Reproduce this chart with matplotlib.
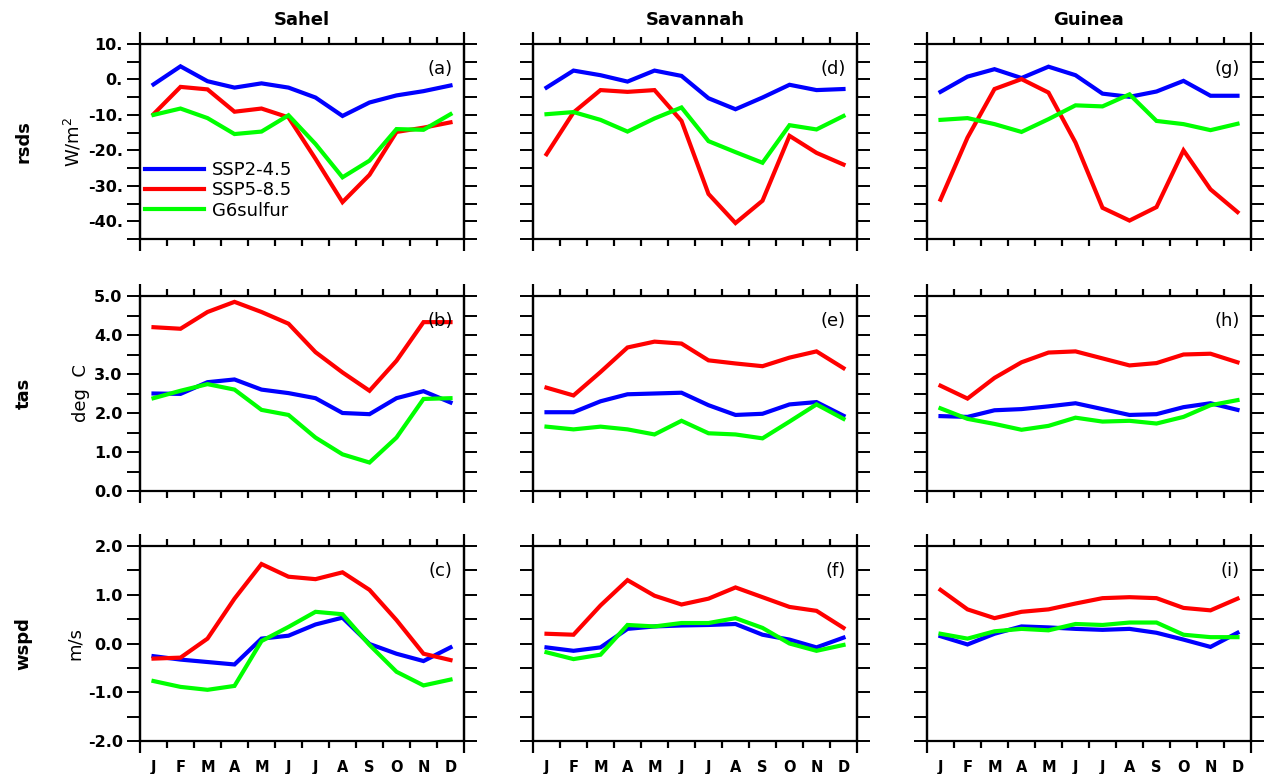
import matplotlib
matplotlib.use("Agg")
import matplotlib.pyplot as plt
import matplotlib.transforms as mtransforms
import numpy as np

plt.rcParams["font.family"] = ["DejaVu Sans"]

months = ["J", "F", "M", "A", "M", "J", "J", "A", "S", "O", "N", "D"]
regions = ["Sahel", "Savannah", "Guinea"]
variables = ["rsds", "tas", "wspd"]
units = ["W/m$^2$", "deg  C", "m/s"]
scenarios = ["SSP2-4.5", "SSP5-8.5", "G6sulfur"]
colors = ["#0000ff", "#ff0000", "#00ff00"]

# rsds (W/m2), one list per region: ssp245, ssp585, g6sulfur
rsds_sahel = [
    [-1.4, 3.7, -0.5, -2.3, -1.1, -2.3, -5.1, -10.3, -6.5, -4.5, -3.3, -1.7],
    [-9.8, -2.1, -2.8, -9.1, -8.2, -10.7, -22.4, -34.6, -26.9, -14.8, -13.6, -12.1],
    [-10.0, -8.2, -10.9, -15.4, -14.7, -10.1, -18.2, -27.6, -22.9, -14.0, -14.2, -9.8],
]
rsds_savannah = [
    [-2.3, 2.5, 1.2, -0.6, 2.5, 1.0, -5.3, -8.4, -5.1, -1.5, -3.0, -2.7],
    [-21.1, -9.3, -3.0, -3.5, -3.0, -11.7, -32.3, -40.5, -34.2, -15.9, -20.7, -24.0],
    [-9.8, -9.2, -11.4, -14.7, -11.0, -7.9, -17.4, -20.5, -23.5, -12.9, -14.1, -10.3],
]
rsds_guinea = [
    [-3.5, 0.8, 2.9, 0.4, 3.6, 1.2, -4.0, -4.9, -3.4, -0.4, -4.6, -4.6],
    [-33.9, -16.4, -2.7, 0.1, -3.7, -17.8, -36.2, -39.8, -36.0, -20.0, -31.0, -37.4],
    [-11.4, -10.9, -12.6, -14.8, -11.2, -7.3, -7.6, -4.2, -11.7, -12.6, -14.3, -12.5],
]

# tas (deg C)
tas_sahel = [
    [2.50, 2.49, 2.79, 2.86, 2.60, 2.51, 2.38, 2.00, 1.97, 2.38, 2.56, 2.27],
    [4.20, 4.16, 4.59, 4.85, 4.59, 4.29, 3.56, 3.04, 2.57, 3.34, 4.33, 4.33],
    [2.38, 2.57, 2.74, 2.60, 2.08, 1.95, 1.37, 0.94, 0.73, 1.37, 2.36, 2.38],
]
tas_savannah = [
    [2.02, 2.02, 2.30, 2.48, 2.50, 2.52, 2.20, 1.95, 1.98, 2.22, 2.28, 1.93],
    [2.65, 2.45, 3.05, 3.68, 3.83, 3.78, 3.35, 3.27, 3.20, 3.42, 3.58, 3.15],
    [1.65, 1.58, 1.65, 1.58, 1.45, 1.80, 1.48, 1.45, 1.35, 1.78, 2.22, 1.85],
]
tas_guinea = [
    [1.92, 1.90, 2.07, 2.10, 2.17, 2.25, 2.10, 1.95, 1.97, 2.15, 2.25, 2.08],
    [2.70, 2.37, 2.90, 3.30, 3.55, 3.58, 3.40, 3.22, 3.28, 3.50, 3.52, 3.30],
    [2.12, 1.85, 1.72, 1.57, 1.67, 1.88, 1.78, 1.80, 1.73, 1.90, 2.20, 2.33],
]

# wspd (m/s)
wspd_sahel = [
    [-0.26, -0.33, -0.38, -0.43, 0.10, 0.16, 0.39, 0.53, -0.01, -0.21, -0.36, -0.08],
    [-0.31, -0.29, 0.10, 0.92, 1.63, 1.37, 1.32, 1.46, 1.10, 0.48, -0.21, -0.34],
    [-0.77, -0.89, -0.95, -0.87, 0.05, 0.34, 0.65, 0.60, -0.03, -0.58, -0.86, -0.74],
]
wspd_savannah = [
    [-0.08, -0.15, -0.08, 0.30, 0.35, 0.37, 0.38, 0.40, 0.18, 0.08, -0.08, 0.12],
    [0.20, 0.18, 0.78, 1.30, 0.98, 0.80, 0.92, 1.15, 0.95, 0.75, 0.67, 0.32],
    [-0.18, -0.32, -0.23, 0.38, 0.35, 0.42, 0.42, 0.52, 0.32, 0.00, -0.15, -0.03],
]
wspd_guinea = [
    [0.15, -0.02, 0.20, 0.35, 0.33, 0.30, 0.28, 0.30, 0.22, 0.08, -0.07, 0.22],
    [1.10, 0.70, 0.52, 0.65, 0.70, 0.82, 0.93, 0.95, 0.93, 0.73, 0.68, 0.92],
    [0.20, 0.10, 0.25, 0.30, 0.27, 0.40, 0.38, 0.43, 0.43, 0.18, 0.13, 0.13],
]

data = [
    [rsds_sahel, rsds_savannah, rsds_guinea],
    [tas_sahel, tas_savannah, tas_guinea],
    [wspd_sahel, wspd_savannah, wspd_guinea],
]

ylims = [(-45, 10), (0, 5), (-2, 2)]
ymajor = [np.arange(-40, 11, 10), np.arange(0, 5.1, 1), np.arange(-2, 2.1, 1)]
yminor = [np.arange(-45, 11, 5), np.arange(0, 5.1, 0.5), np.arange(-2, 2.1, 0.5)]
ylabels = [["-40.", "-30.", "-20.", "-10.", "0.", "10."],
           ["0.0", "1.0", "2.0", "3.0", "4.0", "5.0"],
           ["-2.0", "-1.0", "0.0", "1.0", "2.0"]]
panel_tags = [["(a)", "(d)", "(g)"], ["(b)", "(e)", "(h)"], ["(c)", "(f)", "(i)"]]

W, H = 1265, 774
fig = plt.figure(figsize=(W / 100, H / 100), dpi=100)

col_left = [140, 533, 927]
row_top = [44, 296, 546]
aw, ah = 324, 195

x = np.arange(1, 13)
bounds = x[:-1] + 0.5

for r in range(3):
    for c in range(3):
        ax = fig.add_axes([col_left[c] / W, 1 - (row_top[r] + ah) / H, aw / W, ah / H])
        for k in range(3):
            ax.plot(x, data[r][c][k], color=colors[k], lw=3.0,
                    solid_joinstyle="miter", label=scenarios[k])
        ax.set_xlim(0.5, 12.5)
        ax.set_ylim(*ylims[r])
        ax.set_autoscale_on(False)

        for s in ax.spines.values():
            s.set_linewidth(1.6)

        # month names at the centres (no tick marks there)
        ax.set_xticks(x)
        ax.tick_params(axis="x", which="major", length=0, pad=14,
                       labelsize=10.5, top=False, bottom=False)
        if r == 2:
            ax.set_xticklabels(months, fontweight="bold")
        else:
            ax.set_xticklabels([])

        # short outward marks on the month boundaries, top and bottom,
        # plus longer marks at the frame corners
        blend = mtransforms.blended_transform_factory(ax.transData, ax.transAxes)
        tl = 7 / ah
        ax.vlines(bounds, -tl, 0, colors="black", lw=1.6,
                  transform=blend, clip_on=False)
        ax.vlines(bounds, 1, 1 + tl, colors="black", lw=1.6,
                  transform=blend, clip_on=False)
        ext = 12 / ah
        ax.vlines([0.5, 12.5], -ext, 1 + ext, colors="black", lw=1.6,
                  transform=blend, clip_on=False)

        ax.set_yticks(ymajor[r])
        ax.set_yticks(yminor[r], minor=True)
        ax.tick_params(axis="y", which="both", length=9.5, width=1.4,
                       direction="out", left=True, right=True, labelsize=11.5, pad=3)
        if c == 0:
            ax.set_yticklabels(ylabels[r], fontweight="bold")
            ax.set_ylabel(units[r], fontsize=13, labelpad=3)
            ax.text(-0.36, 0.5, variables[r], transform=ax.transAxes,
                    rotation=90, ha="center", va="center", fontsize=13,
                    fontweight="bold")
        else:
            ax.set_yticklabels([])

        if r == 0:
            ax.set_title(regions[c], fontsize=13, fontweight="bold", pad=14)

        ax.text(0.965, 0.87, panel_tags[r][c], transform=ax.transAxes,
                ha="right", va="center", fontsize=13)

        if r == 0 and c == 0:
            ax.legend(loc="lower left", bbox_to_anchor=(0.015, 0.10),
                      frameon=False, fontsize=13, handlelength=3.3,
                      handletextpad=0.4, labelspacing=0.12,
                      borderaxespad=0, borderpad=0)

fig.savefig("out.png", dpi=100)
